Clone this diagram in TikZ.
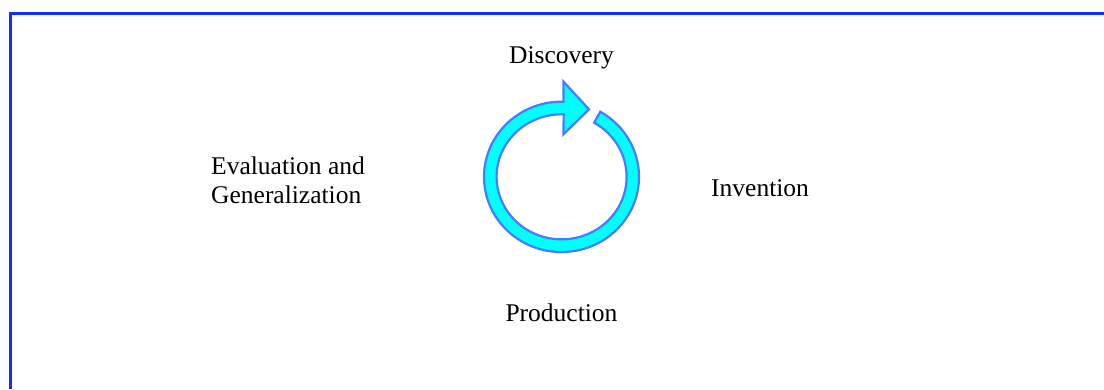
\documentclass[tikz,border=0pt]{standalone}
\usepackage{fontspec}
\setmainfont{Liberation Serif}
\definecolor{frameblue}{RGB}{15,45,255}
\definecolor{ringfill}{RGB}{0,255,255}
\definecolor{ringedge}{RGB}{70,125,255}
\tikzset{
  lbl/.style={inner sep=0pt, font=\fontsize{25.5}{28.3}\selectfont, text=black},
  frameline/.style={draw=frameblue, line width=3pt, line join=miter},
  ringarrow/.style={fill=ringfill, draw=ringedge, line width=2.2pt, line join=miter}
}
\begin{document}
\begin{tikzpicture}[x=1pt,y=1pt]
\useasboundingbox (0,0) rectangle (1104,389);
\draw[frameline] (10.5,0) -- (10.5,375.5) -- (1104,375.5);
% circular arrow
\coordinate (ctr) at (561.5,212.15);
\draw[ringarrow, shift={(ctr)}]
  (38.75,65.12) arc[start angle=60, end angle=-271.5, x radius=77.5pt, y radius=75.2pt]
  -- (2,95.2) -- (27.5,67.5) -- (2,42.5) -- (2.15,62.5)
  arc[start angle=88.2, end angle=420, x radius=65pt, y radius=62.5pt]
  -- cycle;
\node[lbl, anchor=base] (disc) at (561.5,325) {Discovery};
\node[lbl, anchor=base west, align=left] (eval) at (211,185.7) {Evaluation and\\Generalization};
\node[lbl, anchor=base west] (inv) at (711,192.3) {Invention};
\node[lbl, anchor=base] (prod) at (561.5,67.3) {Production};
\end{tikzpicture}
\end{document}
